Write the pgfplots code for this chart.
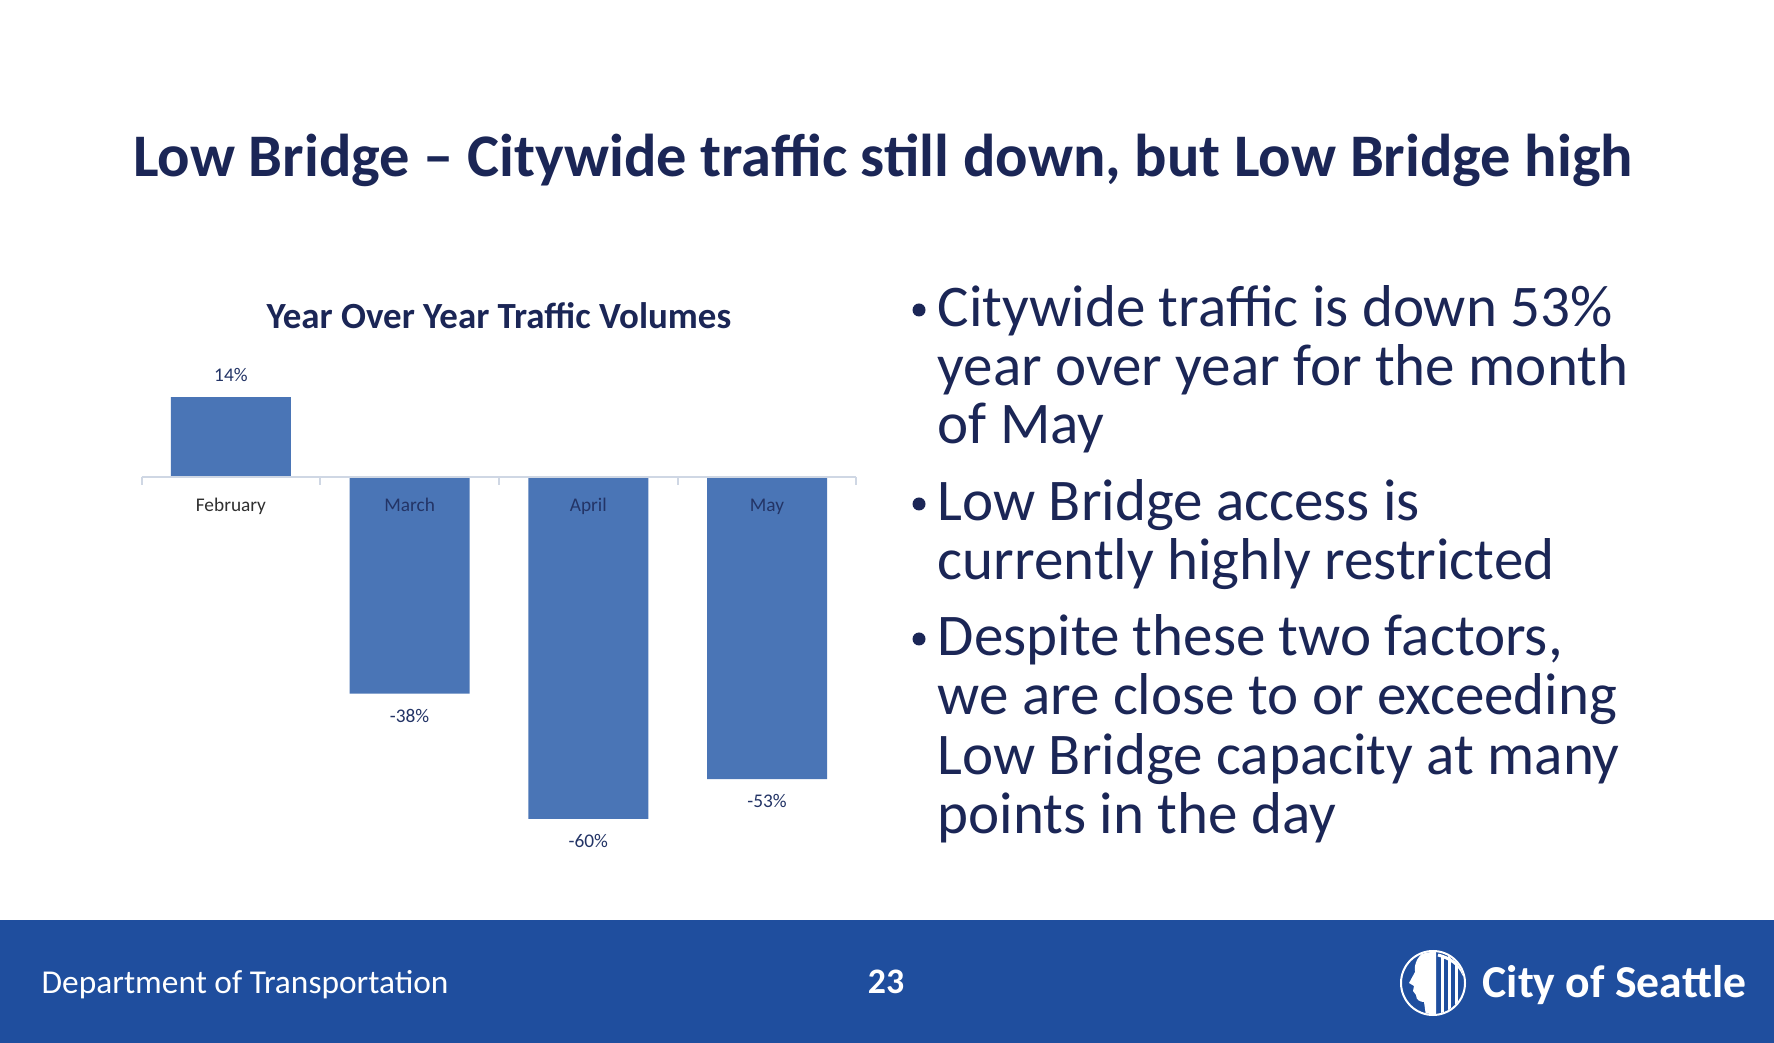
\documentclass[border=0pt]{standalone}
\usepackage{fontspec}
\setmainfont{Carlito}
\usepackage{pgfplots}
\pgfplotsset{compat=1.18}

\definecolor{navy}{HTML}{1B2656}
\definecolor{barblue}{HTML}{4A75B6}
\definecolor{band}{HTML}{1F4E9E}
\definecolor{lbl}{HTML}{233466}
\definecolor{axisgray}{HTML}{CFD7E4}
\definecolor{catgray}{HTML}{303030}

% 1 px of the 1774x1043 slide = 0.1mm
\newcommand\bul[1]{\fontsize{16.8}{17}\selectfont #1}

\begin{document}
\begin{tikzpicture}
\begin{scope}[x=0.1mm,y=-0.1mm]
  \fill[white] (0,0) rectangle (1774,1043);
  \fill[band] (0,920) rectangle (1774,1043);

  % slide title
  \node[anchor=base,text=navy,inner sep=0,font=\fontsize{17.2}{20}\selectfont\bfseries]
    at (883,177) {Low Bridge – Citywide traffic still down, but Low Bridge high};

  % chart title
  \node[anchor=base,text=navy,inner sep=0,font=\fontsize{10.5}{12}\selectfont\bfseries]
    at (499,329) {Year Over Year Traffic Volumes};

  % bullets
  \foreach \y in {310,504,639}
    \fill[navy] (919,\y) circle (6.5);
  \foreach \y/\txt in {327/{Citywide traffic is down 53\%},
                     386/{year over year for the month},
                     444/{of May},
                     521/{Low Bridge access is},
                     580/{currently highly restricted},
                     656/{Despite these two factors,},
                     715/{we are close to or exceeding},
                     775/{Low Bridge capacity at many},
                     834/{points in the day}}
    \node[anchor=base west,text=navy,inner sep=0,font=\bul{}] at (937,\y) {\txt};

  % footer
  \node[anchor=base west,text=white,inner sep=0,font=\fontsize{9.5}{11}\selectfont]
    at (41,993) {Department of Transportation};
  \node[anchor=base,text=white,inner sep=0,font=\fontsize{10.2}{12}\selectfont\bfseries]
    at (886,993) {23};
  \node[anchor=base west,text=white,inner sep=0,font=\fontsize{13}{15}\selectfont\bfseries]
    at (1482,997) {City of Seattle};

  % logo
  \begin{scope}
    \clip (1433,983) circle (31);
    \fill[white] (1436,950) -- (1424,952) .. controls (1416,958) and (1414,966) .. (1415,972)
      -- (1409,983) -- (1414,986) -- (1413,991) -- (1416,995) .. controls (1416,1000) and (1420,1002) .. (1424,1002)
      -- (1426,1016) -- (1436,1016) -- cycle;
    \foreach \x in {1442,1449,1456}
      \draw[white,line width=0.3mm] (\x,955) -- (\x,1015);
    \draw[white,line width=0.3mm] (1438,955) .. controls (1450,958) and (1460,965) .. (1464,975);
  \end{scope}
  \draw[white,line width=0.2mm] (1433,983) circle (32);
\end{scope}

\begin{axis}[
  at={(14.16mm,-87.6mm)}, anchor=south west,
  scale only axis, width=71.48mm, height=51.3mm,
  xmin=-0.5, xmax=3.5, ymin=-70, ymax=20,
  ybar, bar width=12mm,
  axis x line*=middle, axis y line=none,
  x axis line style={draw=axisgray, line width=0.2mm},
  axis on top, clip=false,
  xtick={0,1,2,3},
  xticklabels={\textcolor{catgray}{February},March,April,May},
  major tick length=0pt,
  xticklabel style={anchor=base, yshift=-3.4mm, text=lbl, font=\fontsize{5.5}{6}\selectfont},
  ytick=\empty,
  nodes near coords, point meta=explicit symbolic,
  visualization depends on={rawy \as \rawy},
  every node near coord/.append style={font=\fontsize{5.5}{6}\selectfont, text=lbl, inner sep=1.5mm,
    /utils/exec={\ifdim\rawy pt<0pt\def\myanc{north}\else\def\myanc{south}\fi},
    anchor=\myanc},
]
\addplot[fill=barblue, draw=none] coordinates {
  (0,14) [14\%] (1,-38) [-38\%] (2,-60) [-60\%] (3,-53) [-53\%]
};
\draw[axisgray, line width=0.2mm] (axis cs:-0.5,0) -- (axis cs:-0.5,-1.4);
\draw[axisgray, line width=0.2mm] (axis cs:0.5,0) -- (axis cs:0.5,-1.4);
\draw[axisgray, line width=0.2mm] (axis cs:1.5,0) -- (axis cs:1.5,-1.4);
\draw[axisgray, line width=0.2mm] (axis cs:2.5,0) -- (axis cs:2.5,-1.4);
\draw[axisgray, line width=0.2mm] (axis cs:3.5,0) -- (axis cs:3.5,-1.4);
\end{axis}

\pgfresetboundingbox
\path[use as bounding box] (0,0) rectangle (177.4mm,-104.3mm);
\end{tikzpicture}
\end{document}
